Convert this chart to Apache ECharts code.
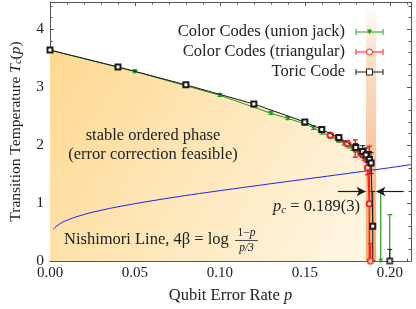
<!DOCTYPE html>
<html>
<head>
<meta charset="utf-8">
<script src="https://cdn.jsdelivr.net/npm/echarts@6/dist/echarts.min.js"></script>
<style>html,body{margin:0;padding:0;background:#fff}#c{width:416px;height:309px}</style>
</head>
<body>
<div id="c"></div>
<script>
// ---- data ----
const toricP   = [0, 0.04, 0.08, 0.12, 0.15, 0.16, 0.17, 0.18, 0.184, 0.186, 0.188, 0.189, 0.19];
const toricT   = [3.64, 3.35, 3.04, 2.71, 2.40, 2.27, 2.13, 1.96, 1.89, 1.83, 1.75, 1.69, 0.60];
const toricErr = [0.02, 0.02, 0.02, 0.02, 0.03, 0.03, 0.04, 0.07, 0.10, 0.12, 0.14, 0.18, 0.60];
const toricZeroP = [0.200], toricZeroT = [0], toricZeroErr = [0.2];

const unionP   = [0, 0.05, 0.10, 0.13, 0.14, 0.15, 0.155, 0.16, 0.165, 0.17, 0.173, 0.176, 0.178, 0.18, 0.182, 0.184, 0.186];
const unionT   = [3.64, 3.27, 2.86, 2.55, 2.46, 2.37, 2.30, 2.22, 2.15, 2.08, 2.03, 1.99, 1.95, 1.92, 1.88, 1.84, 1.79];
const unionErr = [0.02, 0.02, 0.02, 0.02, 0.02, 0.03, 0.03, 0.03, 0.03, 0.03, 0.03, 0.04, 0.04, 0.04, 0.05, 0.05, 0.05];
const unionZeroP = [0.1947, 0.200], unionZeroT = [0, 0], unionZeroErr = [1.2, 0.8];

const triP   = [0.165, 0.17, 0.175, 0.1797, 0.183, 0.185, 0.187, 0.188];
const triT   = [2.17, 2.11, 2.03, 1.94, 1.87, 1.82, 1.61, 0.99];
const triErr = [0.03, 0.03, 0.04, 0.15, 0.06, 0.08, 0.12, 0.99];
const triZeroP = [0.1886], triZeroT = [0], triZeroErr = [0.3];

const nishP = [0.002, 0.005, 0.01, 0.02, 0.03, 0.04, 0.06, 0.08, 0.10, 0.12, 0.14, 0.16, 0.18, 0.20, 0.2125];
const nishT = [0.547, 0.626, 0.703, 0.802, 0.874, 0.935, 1.039, 1.130, 1.214, 1.294, 1.373, 1.451, 1.530, 1.610, 1.663];

const pc = 0.189, pcErr = 0.003;
const fillEndP = 0.189;
const arrowT = 1.2;
const arrowLeft = [0.1695, 0.1858];
const arrowRight = [0.2082, 0.1921];

const xMin = 0, xMax = 0.2125, xStep = 0.05;
const yMin = 0, yMax = 4.47, yStep = 1;

// ---- helpers ----
const zip = (a, b) => a.map((v, i) => [v, b[i]]);
const zip3 = (a, b, c) => a.map((v, i) => [v, b[i], c[i]]);
const FONT = '"Liberation Serif", "DejaVu Serif", serif';
const BLACK = '#1a1a1a', GREEN = '#1f9f1f', RED = '#ff1f1f', BLUE = '#2020e8';
const FS = 16.5;

function errSeries(data, color, lw, z) {
  return {
    type: 'custom', data: data, z: z, clip: true, silent: true,
    renderItem: function (params, api) {
      const x = api.value(0), y = api.value(1), e = api.value(2);
      const t = api.coord([x, y + e]), b = api.coord([x, y - e]);
      const cw = 2.5;
      const st = { stroke: color, lineWidth: lw };
      return { type: 'group', children: [
        { type: 'line', shape: { x1: t[0], y1: t[1], x2: b[0], y2: b[1] }, style: st },
        { type: 'line', shape: { x1: t[0] - cw, y1: t[1], x2: t[0] + cw, y2: t[1] }, style: st },
        { type: 'line', shape: { x1: b[0] - cw, y1: b[1], x2: b[0] + cw, y2: b[1] }, style: st }
      ]};
    }
  };
}

const fillData = zip(toricP, toricT).filter(d => d[0] <= fillEndP);
fillData.push([fillEndP, 0]);

const axisCommon = {
  type: 'value',
  axisLine: { show: true, onZero: false, lineStyle: { color: '#555', width: 1 } },
  axisTick: { show: true, inside: true, length: 4, lineStyle: { color: '#555' } },
  minorTick: { show: true, splitNumber: 5, length: 2.5, lineStyle: { color: '#555' } },
  splitLine: { show: false },
  minorSplitLine: { show: false }
};

const chart = echarts.init(document.getElementById('c'), null, { renderer: 'canvas' });
chart.setOption({
  animation: false,
  backgroundColor: '#fff',
  grid: { left: 42, right: 5, top: 2, bottom: 42, containLabel: false },
  xAxis: [
    Object.assign({}, axisCommon, {
      min: xMin, max: xMax, interval: xStep, position: 'bottom',
      axisLabel: { show: true, showMaxLabel: false, color: '#222', fontFamily: FONT, fontSize: 15, margin: 5,
        formatter: v => v.toFixed(2) },
      name: 'Qubit Error Rate {i|p}', nameLocation: 'middle', nameGap: 26,
      nameTextStyle: { color: '#222', fontFamily: FONT, fontSize: FS,
        rich: { i: { fontStyle: 'italic', fontFamily: FONT, fontSize: FS, color: '#222' } } }
    }),
    Object.assign({}, axisCommon, {
      min: xMin, max: xMax, interval: xStep, position: 'top',
      axisLabel: { show: false }
    })
  ],
  yAxis: [
    Object.assign({}, axisCommon, {
      min: yMin, max: yMax, interval: yStep, position: 'left',
      axisLabel: { show: true, showMaxLabel: false, color: '#222', fontFamily: FONT, fontSize: 15.5, margin: 6 },
      name: 'Transition Temperature {i|T}{s|c}({i|p})', nameLocation: 'middle', nameGap: 26, nameRotate: 90,
      nameTextStyle: { color: '#222', fontFamily: FONT, fontSize: 15.5,
        rich: {
          i: { fontStyle: 'italic', fontFamily: FONT, fontSize: 15.5, color: '#222' },
          s: { fontStyle: 'italic', fontFamily: FONT, fontSize: 10.5, color: '#222', verticalAlign: 'bottom' }
        } }
    }),
    Object.assign({}, axisCommon, {
      min: yMin, max: yMax, interval: yStep, position: 'right',
      axisLabel: { show: false }
    })
  ],
  series: [
    { // ordered-phase fill
      type: 'line', data: fillData, showSymbol: false, silent: true, z: 1,
      lineStyle: { width: 0 },
      areaStyle: { origin: 'start', opacity: 1,
        color: new echarts.graphic.LinearGradient(0, 0, 1, 1, [
          { offset: 0, color: '#fed890' }, { offset: 1, color: '#fff7e6' }]) },
      markArea: { silent: true, z: 2,
        itemStyle: { color: new echarts.graphic.LinearGradient(0, 0, 0, 1, [
          { offset: 0, color: 'rgba(242,155,85,0)' },
          { offset: 0.2, color: 'rgba(242,155,85,0.3)' },
          { offset: 1, color: 'rgba(242,155,85,0.85)' }]) },
        data: [[{ coord: [pc - pcErr, yMax] }, { coord: [pc + pcErr, yMin] }]] }
    },
    { // Nishimori line
      type: 'line', data: zip(nishP, nishT), smooth: true, showSymbol: false, silent: true, z: 3,
      lineStyle: { color: BLUE, width: 1 },
      markLine: { silent: true, symbol: ['none', 'arrow'], symbolSize: [7, 9], label: { show: false },
        lineStyle: { color: BLACK, width: 1.2, type: 'solid' },
        data: [
          [{ coord: [arrowLeft[0], arrowT] }, { coord: [arrowLeft[1], arrowT] }],
          [{ coord: [arrowRight[0], arrowT] }, { coord: [arrowRight[1], arrowT] }]
        ] }
    },
    errSeries(zip3(unionP, unionT, unionErr), GREEN, 1, 4),
    errSeries(zip3(unionZeroP, unionZeroT, unionZeroErr), GREEN, 1.2, 4),
    errSeries(zip3(triP, triT, triErr), RED, 1.5, 5),
    errSeries(zip3(triZeroP, triZeroT, triZeroErr), RED, 1.5, 5),
    errSeries(zip3(toricP, toricT, toricErr), BLACK, 1, 6),
    errSeries(zip3(toricZeroP, toricZeroT, toricZeroErr), BLACK, 1, 6),
    { name: 'Color Codes (union jack)', type: 'line', data: zip(unionP, unionT), z: 7,
      symbol: 'triangle', symbolRotate: 180, symbolSize: 5, itemStyle: { color: GREEN },
      lineStyle: { color: GREEN, width: 1 } },
    { type: 'scatter', data: zip(unionZeroP, unionZeroT), z: 7, symbol: 'triangle', symbolRotate: 180,
      symbolSize: 5, itemStyle: { color: GREEN } },
    { name: 'Color Codes (triangular)', type: 'line', data: zip(triP, triT), z: 8,
      symbol: 'emptyCircle', symbolSize: 5.5, itemStyle: { color: RED, borderWidth: 0.9 },
      lineStyle: { color: RED, width: 1.3 } },
    { type: 'scatter', data: zip(triZeroP, triZeroT), z: 8, symbol: 'emptyCircle', symbolSize: 5.5,
      itemStyle: { color: RED, borderWidth: 0.9 } },
    { name: 'Toric Code', type: 'line', data: zip(toricP, toricT), z: 9,
      symbol: 'emptyRect', symbolSize: 5, itemStyle: { color: BLACK, borderWidth: 0.9 },
      lineStyle: { color: BLACK, width: 1 } },
    { type: 'scatter', data: zip(toricZeroP, toricZeroT), z: 9, symbol: 'emptyRect', symbolSize: 5,
      itemStyle: { color: BLACK, borderWidth: 0.9 } }
  ],
  graphic: (function () {
    const g = [];
    const txt = (x, y, text, align, extra) => Object.assign({ type: 'text', x: x, y: y, z: 20, silent: true,
      style: Object.assign({ text: text, fill: '#222', font: FS + 'px ' + FONT, align: align, verticalAlign: 'middle' }, extra || {}) });
    g.push(txt(153, 136, 'stable ordered phase', 'center'));
    g.push(txt(153, 155, '(error correction feasible)', 'center'));
    g.push(txt(64, 240, 'Nishimori Line, 4\u03B2 = log', 'left'));
    g.push({ type: 'text', x: 246.5, y: 233, z: 20, silent: true,
      style: { text: '1\u2212{i|p}', fill: '#222', font: '11.5px ' + FONT, align: 'center', verticalAlign: 'middle',
        rich: { i: { fontStyle: 'italic', fontSize: 11.5, fontFamily: FONT, fill: '#222' } } } });
    g.push(txt(246.5, 248, 'p/3', 'center', { font: 'italic 11.5px ' + FONT }));
    g.push({ type: 'line', z: 20, silent: true, shape: { x1: 235, y1: 240.5, x2: 258, y2: 240.5 }, style: { stroke: '#222', lineWidth: 0.8 } });
    g.push({ type: 'text', x: 360, y: 207, z: 20, silent: true,
      style: { text: '{i|p}{s|c} = 0.189(3)', fill: '#222', font: FS + 'px ' + FONT, align: 'right', verticalAlign: 'middle',
        rich: { i: { fontStyle: 'italic', fontSize: FS, fontFamily: FONT, fill: '#222' },
                s: { fontStyle: 'italic', fontSize: 11, fontFamily: FONT, fill: '#222', verticalAlign: 'bottom' } } } });
    // legend
    const rows = [
      { y: 32, label: 'Color Codes (union jack)', color: GREEN, sym: 'tri' },
      { y: 52, label: 'Color Codes (triangular)', color: RED, sym: 'circ' },
      { y: 72, label: 'Toric Code', color: BLACK, sym: 'rect' }
    ];
    rows.forEach(r => {
      g.push(txt(345, r.y, r.label, 'right'));
      const st = { stroke: r.color, lineWidth: 1 };
      g.push({ type: 'line', z: 20, silent: true, shape: { x1: 356, y1: r.y, x2: 383, y2: r.y }, style: st });
      g.push({ type: 'line', z: 20, silent: true, shape: { x1: 356, y1: r.y - 3, x2: 356, y2: r.y + 3 }, style: st });
      g.push({ type: 'line', z: 20, silent: true, shape: { x1: 383, y1: r.y - 3, x2: 383, y2: r.y + 3 }, style: st });
      if (r.sym === 'tri') g.push({ type: 'polygon', z: 21, silent: true, shape: { points: [[367, r.y - 2.5], [372, r.y - 2.5], [369.5, r.y + 2.5]] }, style: { fill: r.color } });
      if (r.sym === 'circ') g.push({ type: 'circle', z: 21, silent: true, shape: { cx: 369.5, cy: r.y, r: 3 }, style: { fill: '#fff', stroke: r.color, lineWidth: 1 } });
      if (r.sym === 'rect') g.push({ type: 'rect', z: 21, silent: true, shape: { x: 366.5, y: r.y - 3, width: 6, height: 6 }, style: { fill: '#fff', stroke: r.color, lineWidth: 1 } });
    });
    return g;
  })()
});
</script>
</body>
</html>
